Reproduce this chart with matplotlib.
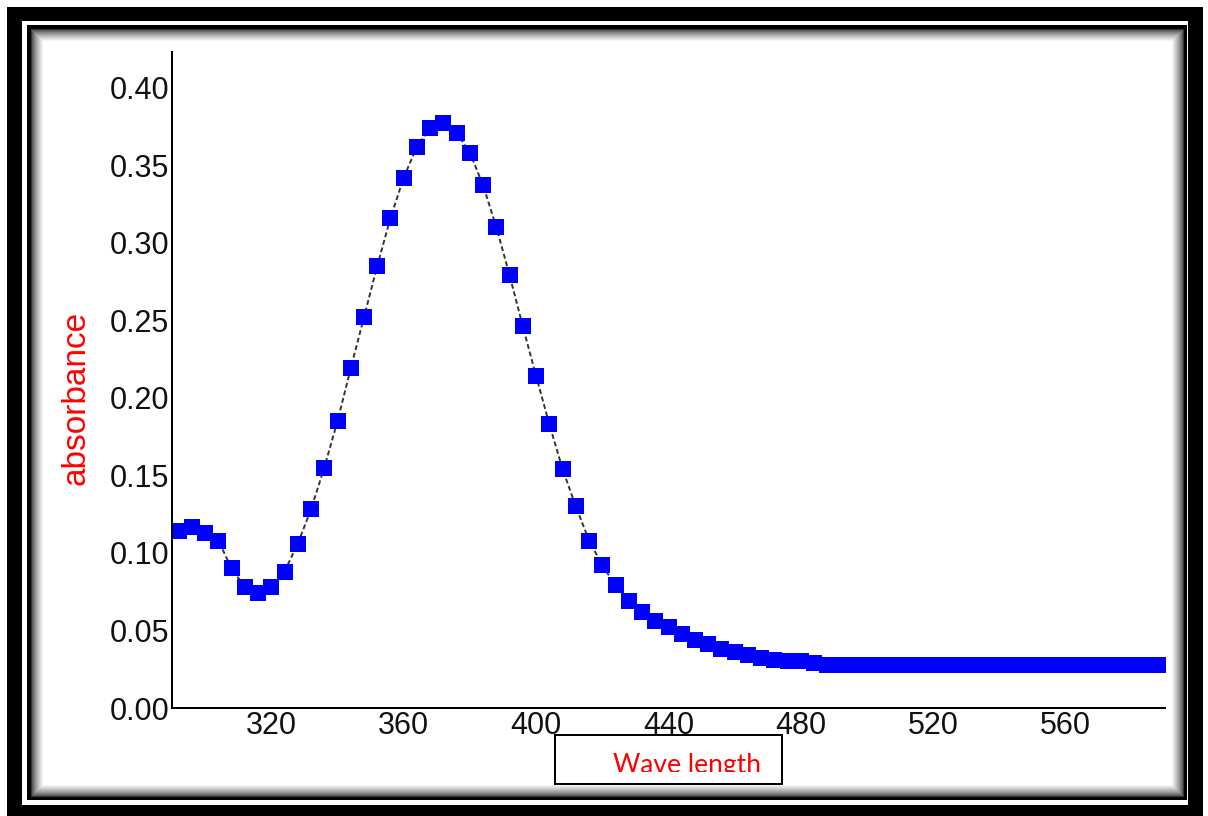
import numpy as np
import matplotlib
matplotlib.use('Agg')
import matplotlib.pyplot as plt
from matplotlib.patches import Rectangle
from matplotlib.transforms import Bbox, TransformedBbox

plt.rcParams['font.family'] = ['Liberation Sans', 'DejaVu Sans']

# data (nm, absorbance)
wavelength = np.arange(288, 592, 4)
absorbance = [
    0.120, 0.114, 0.117, 0.113, 0.108, 0.090, 0.078, 0.074, 0.078, 0.088,
    0.106, 0.128, 0.155, 0.185, 0.219, 0.252, 0.285, 0.316, 0.342, 0.362,
    0.374, 0.377, 0.371, 0.358, 0.337, 0.310, 0.279, 0.246, 0.214, 0.183,
    0.154, 0.130, 0.108, 0.092, 0.079, 0.069, 0.062, 0.056, 0.052, 0.048,
    0.044, 0.041, 0.038, 0.036, 0.034, 0.032, 0.031, 0.030, 0.030, 0.029,
    0.028, 0.028, 0.028, 0.028, 0.028, 0.028, 0.028, 0.028, 0.028, 0.028,
    0.028, 0.028, 0.028, 0.028, 0.028, 0.028, 0.028, 0.028, 0.028, 0.028,
    0.028, 0.028, 0.028, 0.028, 0.028, 0.028,
]
xticks = [320, 360, 400, 440, 480, 520, 560]
yticks = [0.00, 0.05, 0.10, 0.15, 0.20, 0.25, 0.30, 0.35, 0.40]

W, H = 1208, 816
fig = plt.figure(figsize=(W / 100, H / 100), dpi=100)
PT = 0.72  # points per pixel

# --- decorative frame, drawn in pixel coordinates ---
bg = fig.add_axes([0, 0, 1, 1], zorder=0)
bg.set_xlim(0, W)
bg.set_ylim(H, 0)
bg.axis('off')
bg.add_patch(Rectangle((7, 7), 1196, 820, fc='black', ec='none'))
bg.add_patch(Rectangle((22, 21), 1166, 784, fc='white', ec='none'))
bg.add_patch(Rectangle((29, 27), 1156, 771, fc='none', ec='black', lw=4 * PT))
# soft inner shadow
for i in range(13):
    g = 0.2 + 0.8 * (i / 12) ** 0.7
    bg.add_patch(Rectangle((31 + i, 29 + i), 1152 - 2 * i, 767 - 2 * i,
                           fc='none', ec=(g, g, g), lw=1.2 * PT))

# x label box
bg.add_patch(Rectangle((555, 735), 227, 49, fc='white', ec='black', lw=2 * PT))
t = bg.text(613, 773, 'Wave length', color='red', fontsize=19,
            family=['Lato', 'DejaVu Sans'], ha='left', va='baseline')
t.set_clip_box(TransformedBbox(Bbox([[555, 735], [782, 772]]), bg.transData))
t.set_clip_on(True)

# --- main plot ---
ax = fig.add_axes([172 / W, 1 - 708 / H, (1165 - 172) / W, (708 - 52) / H], zorder=1)
ax.patch.set_visible(False)
ax.plot(wavelength, absorbance, ls=(0, (2.5, 1.5)), color='#333333', lw=1.4,
        marker='s', ms=11, mfc='#0000ff', mec='#0000ff', mew=0)

ax.set_xlim(290, 590)
ax.set_ylim(0, 0.423)
ax.set_xticks(xticks)
ax.set_yticks(yticks)
ax.set_yticklabels([f'{v:.2f}' for v in yticks])
ax.tick_params(length=0, labelsize=22, colors='#111111', pad=2)
for s in ['top', 'right']:
    ax.spines[s].set_visible(False)
for s in ['left', 'bottom']:
    ax.spines[s].set_linewidth(2 * PT)
    ax.spines[s].set_color('black')

ax.set_ylabel('absorbance', color='red', fontsize=24)
ax.yaxis.set_label_coords(-0.0806, 0.4726)

fig.savefig('out.png', dpi=100)
